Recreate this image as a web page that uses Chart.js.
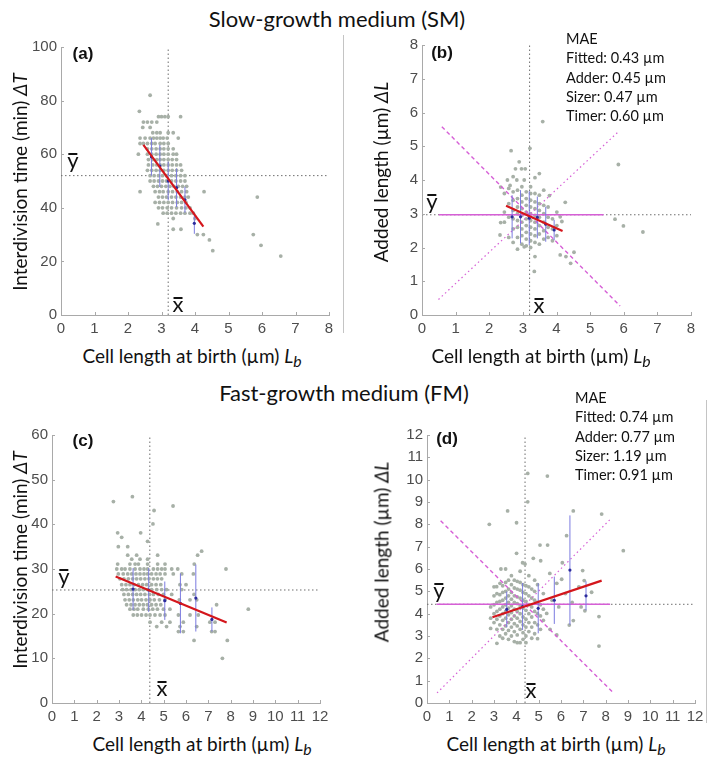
<!DOCTYPE html>
<html>
<head>
<meta charset="utf-8">
<script src="https://cdn.jsdelivr.net/npm/chart.js@4.4.0/dist/chart.umd.min.js"></script>
<style>
  body { margin: 0; background: #fff; }
  #fig { position: relative; width: 709px; height: 760px; background: #fff; overflow: hidden; font-family: Lato, "Open Sans", sans-serif; color: #111; }
  #fig canvas { position: absolute; }
  .txt { position: absolute; white-space: nowrap; transform: translate(-50%, -50%); }
  .title { font-size: 22px; }
  .axt { font-size: 19px; }
  .ytitle { transform: translate(-50%, -50%) rotate(-90deg); }
  .panel { font-family: "Liberation Sans", Arial, sans-serif; font-weight: bold; font-size: 17px; }
  .mean { font-size: 22px; line-height: 22px; }
  .mean::before { content: ""; position: absolute; left: 1px; right: 1px; top: 4px; height: 1.5px; background: #111; }
  .mae { position: absolute; font-size: 14.5px; line-height: 19.3px; white-space: nowrap; }
  .sep { position: absolute; width: 1px; background: #c4c4c4; }
</style>
</head>
<body>
<div id="fig">
  <div class="txt title" style="left:337px; top:18px;">Slow-growth medium (SM)</div>
  <div class="txt title" style="left:344px; top:392px;">Fast-growth medium (FM)</div>

  <canvas id="chartA"></canvas>
  <canvas id="chartB"></canvas>
  <canvas id="chartC"></canvas>
  <canvas id="chartD"></canvas>

  <div class="sep" style="left:343px; top:35px; height:298px;"></div>
  <div class="sep" style="left:706px; top:400px; height:323px;"></div>

  <div class="txt panel" style="left:83px; top:54px;">(a)</div>
  <div class="txt panel" style="left:442px; top:53px;">(b)</div>
  <div class="txt panel" style="left:83px; top:441px;">(c)</div>
  <div class="txt panel" style="left:447px; top:439px;">(d)</div>

  <div class="txt mean" style="left:73px; top:160px;">y</div>
  <div class="txt mean" style="left:178px; top:304px;">x</div>
  <div class="txt mean" style="left:432px; top:201px;">y</div>
  <div class="txt mean" style="left:539px; top:305px;">x</div>
  <div class="txt mean" style="left:64px; top:576px;">y</div>
  <div class="txt mean" style="left:162px; top:688px;">x</div>
  <div class="txt mean" style="left:439px; top:590px;">y</div>
  <div class="txt mean" style="left:531px; top:690px;">x</div>

  <div class="mae" style="left:566px; top:29px;">MAE<br>Fitted: 0.43 µm<br>Adder: 0.45 µm<br>Sizer: 0.47 µm<br>Timer: 0.60 µm</div>
  <div class="mae" style="left:575px; top:388px;">MAE<br>Fitted: 0.74 µm<br>Adder: 0.77 µm<br>Sizer: 1.19 µm<br>Timer: 0.91 µm</div>

  <div class="txt axt" style="left:192px; top:357px;">Cell length at birth (µm) <i>L</i><sub><i>b</i></sub></div>
  <div class="txt axt" style="left:541px; top:357px;">Cell length at birth (µm) <i>L</i><sub><i>b</i></sub></div>
  <div class="txt axt" style="left:202px; top:745px;">Cell length at birth (µm) <i>L</i><sub><i>b</i></sub></div>
  <div class="txt axt" style="left:556px; top:745px;">Cell length at birth (µm) <i>L</i><sub><i>b</i></sub></div>
  <div class="txt axt ytitle" style="left:19px; top:182px;">Interdivision time (min) <i>ΔT</i></div>
  <div class="txt axt ytitle" style="left:380px; top:172px;">Added length (µm) <i>ΔL</i></div>
  <div class="txt axt ytitle" style="left:19px; top:560px;">Interdivision time (min) <i>ΔT</i></div>
  <div class="txt axt ytitle" style="left:381px; top:552px;">Added length (µm) <i>ΔL</i></div>
</div>

<script>
// ---------- (a) slow growth: interdivision time vs birth length ----------
const aRowY = [82, 76, 74, 72, 70, 68, 66, 64, 62, 60, 58, 56, 54, 52, 50, 48, 46, 44, 42, 40, 38, 36, 34, 32, 30, 28, 26, 24, 22];
const aRowX = [
    [2.66],
    [2.34],
    [2.91, 3.0, 3.1, 3.2, 3.57],
    [2.46, 2.58, 2.71, 2.86],
    [2.44, 2.66],
    [2.74, 2.86, 2.96, 3.2, 3.35],
    [2.36, 2.51, 2.66, 2.76, 2.86, 2.96, 3.05, 3.17, 3.5],
    [2.36, 2.46, 2.58, 2.71, 2.81, 2.96, 3.07, 3.2],
    [2.58, 2.71, 2.84, 2.96, 3.07, 3.2, 3.35],
    [2.31, 2.58, 2.71, 2.84, 2.96, 3.07, 3.2, 3.35, 3.45],
    [2.61, 2.74, 2.86, 2.96, 3.07, 3.2, 3.32, 3.45],
    [2.61, 2.74, 2.86, 2.96, 3.07, 3.2, 3.32, 3.45, 3.57],
    [2.58, 2.71, 2.84, 2.96, 3.07, 3.2, 3.32, 3.45, 3.6],
    [2.66, 2.78, 2.91, 3.03, 3.15, 3.3, 3.43, 3.57, 3.7],
    [2.66, 2.78, 2.91, 3.03, 3.15, 3.3, 3.43, 3.57, 3.7],
    [2.76, 2.88, 3.0, 3.13, 3.25, 3.37, 3.5, 3.63, 3.75],
    [2.36, 2.81, 2.94, 3.05, 3.2, 3.33, 3.47, 3.6, 3.75, 4.27],
    [2.91, 3.03, 3.15, 3.3, 3.43, 3.57, 3.7, 3.8, 5.86],
    [2.81, 2.94, 3.07, 3.2, 3.33, 3.47, 3.6, 3.73],
    [2.91, 3.03, 3.17, 3.3, 3.45, 3.6, 3.73, 3.85],
    [3.05, 3.17, 3.3, 3.43, 3.57, 3.7, 3.85, 3.95],
    [3.35, 4.0],
    [2.89],
    [3.35, 3.58],
    [4.07, 4.25, 5.74],
    [4.43],
    [5.97],
    [4.53],
    [6.56]
];
const aBinX = [2.7, 2.95, 3.2, 3.45, 3.7, 3.98];
const aBinMean = [59, 55.6, 50, 47.5, 43, 34.2];
const aBinSd = [7, 7.8, 7.2, 7.2, 4.8, 3.9];
const aFit = [[2.46, 63.5], [4.25, 33]];
const aMean = [3.2, 52];

// ---------- (b) slow growth: added length vs birth length ----------
const bPts = [
    [2.45, 2.75], [2.45, 3.05], [2.45, 3.6], [2.34, 3.79], [2.34, 2.74], [2.32, 2.37], [2.54, 4.0],
    [2.58, 2.3], [2.58, 2.9], [2.58, 3.3], [2.58, 3.75], [2.62, 3.84], [2.65, 4.87],
    [2.71, 2.15], [2.71, 2.55], [2.71, 2.85], [2.71, 3.1], [2.71, 3.4], [2.71, 3.65], [2.71, 4.1], [2.78, 4.33],
    [2.84, 1.95], [2.84, 2.3], [2.84, 2.6], [2.84, 2.8], [2.84, 3.0], [2.84, 3.2], [2.84, 3.45], [2.84, 3.7], [2.82, 4.0], [2.89, 4.54],
    [2.97, 2.1], [2.97, 2.35], [2.97, 2.55], [2.97, 2.75], [2.97, 2.95], [2.97, 3.15], [2.97, 3.35], [2.97, 3.55], [2.97, 3.8], [2.96, 4.33],
    [3.1, 2.05], [3.1, 2.25], [3.1, 2.45], [3.1, 2.65], [3.1, 2.85], [3.1, 3.05], [3.1, 3.25], [3.1, 3.45], [3.1, 3.65], [3.07, 4.33], [3.04, 4.0], [3.04, 2.02],
    [3.23, 2.0], [3.23, 2.2], [3.23, 2.4], [3.23, 2.6], [3.23, 2.8], [3.23, 3.0], [3.23, 3.2], [3.23, 3.4], [3.23, 3.6], [3.23, 3.8], [3.21, 4.94],
    [3.36, 2.15], [3.36, 2.35], [3.36, 2.55], [3.36, 2.75], [3.36, 2.95], [3.36, 3.15], [3.36, 3.35], [3.36, 3.6], [3.36, 4.07], [3.36, 1.73], [3.34, 1.29],
    [3.49, 2.1], [3.49, 2.4], [3.49, 2.65], [3.49, 2.9], [3.49, 3.1], [3.49, 3.3], [3.49, 3.55], [3.49, 4.19], [3.59, 5.73],
    [3.62, 2.25], [3.62, 2.5], [3.62, 2.75], [3.62, 3.0], [3.62, 3.25], [3.62, 3.7],
    [3.75, 2.3], [3.75, 2.6], [3.75, 2.9], [3.75, 3.2], [3.79, 3.54],
    [3.88, 2.2], [3.88, 2.55], [3.88, 2.85],
    [4.01, 2.35], [4.01, 2.65], [4.01, 3.05], [4.11, 2.91], [4.16, 2.77], [4.26, 3.34],
    [4.11, 1.78], [4.28, 1.73], [4.52, 1.86], [4.42, 1.53],
    [5.84, 4.46], [5.74, 2.84], [5.99, 2.64], [6.57, 2.46]
];
const bBinX = [2.68, 2.93, 3.19, 3.43, 3.68, 3.93];
const bBinMean = [2.91, 2.91, 2.87, 2.89, 2.69, 2.52];
const bBinSd = [0.64, 0.79, 0.8, 0.62, 0.52, 0.3];
const bFit = [[2.5, 3.24], [4.18, 2.49]];
const bMean = [3.2, 2.97];
const bAdder = [[0.5, 2.97], [5.4, 2.97]];
const bSizer = [[0.59, 5.58], [5.89, 0.27]];
const bTimer = [[0.49, 0.46], [5.84, 5.43]];

// ---------- (c) fast growth: interdivision time vs birth length ----------
const cRowY = [46.2, 45.1, 44.1, 43.1, 40.1, 38.1, 37.1, 36.2, 35, 34, 33.1, 32.2, 31.1, 30, 28.9, 27.8, 26.5, 25.4, 24.3, 23.1, 22, 21, 19.7, 18.1, 17.1, 16, 14, 10];
const cRowX = [
    [3.6],
    [2.75],
    [5.42],
    [4.57],
    [4.52],
    [2.94, 3.97],
    [3.12],
    [4.28],
    [2.97, 3.39],
    [6.7],
    [3.39, 3.79, 4.73, 6.52],
    [3.57, 3.94, 4.28],
    [2.94, 3.49, 3.72, 3.87, 4.28, 4.73, 5.06, 6.37],
    [2.9, 3.12, 3.27, 3.49, 3.72, 3.94, 4.12, 4.28, 4.54, 4.73, 4.91, 5.06, 5.36, 5.63, 7.79],
    [2.97, 3.19, 3.39, 3.57, 3.76, 3.94, 4.12, 4.28, 4.46, 4.66, 4.84, 5.06, 5.43, 5.81, 6.33],
    [3.04, 3.22, 3.42, 3.61, 3.79, 3.97, 4.16, 4.34, 4.54, 4.72, 4.91],
    [3.12, 3.31, 3.49, 3.67, 3.87, 4.06, 4.24, 4.46, 4.66, 4.87, 5.73, 6.0],
    [3.16, 3.34, 3.54, 3.72, 3.91, 4.09, 4.28, 4.46, 4.69, 4.91, 5.13, 5.81],
    [3.22, 3.42, 3.61, 3.79, 3.97, 4.16, 4.36, 4.54, 4.76, 4.99, 5.36, 6.36],
    [3.27, 3.46, 3.64, 3.84, 4.01, 4.21, 4.39, 4.58, 4.81, 5.06, 5.7, 6.18, 6.48],
    [3.34, 3.54, 3.72, 3.91, 4.09, 4.27, 4.46, 4.66, 4.87, 7.37],
    [3.49, 3.67, 3.84, 4.09, 4.31, 4.51, 4.72, 4.99, 5.28, 8.79],
    [3.64, 3.82, 4.01, 4.21, 4.39, 4.61, 4.84, 5.06, 5.66, 6.18, 6.55],
    [4.39, 4.91, 5.28, 5.88, 7.07, 7.3],
    [4.69, 5.13, 5.73, 6.48],
    [5.66, 5.88, 7.15, 7.3],
    [6.36, 7.85],
    [7.63]
];
const cBinX = [3.63, 4.33, 5.05, 5.75, 6.44, 7.16];
const cBinMean = [25.5, 25.3, 22.9, 22.3, 23.5, 18.7];
const cBinSd = [4.7, 4.9, 4.3, 6.7, 7.5, 2.7];
const cFit = [[2.85, 28.3], [7.82, 18.0]];
const cMean = [4.38, 25.3];

// ---------- (d) fast growth: added length vs birth length ----------
const dPts = [
    [2.85, 3.34], [2.85, 3.8], [2.85, 4.3],
    [3.0, 3.6], [3.0, 4.0], [3.0, 4.4], [3.0, 4.8], [3.0, 5.2],
    [3.13, 2.67], [3.13, 3.3], [3.13, 3.75], [3.13, 4.1], [3.13, 4.5], [3.13, 4.9], [3.12, 5.21],
    [3.26, 3.0], [3.26, 3.5], [3.26, 3.9], [3.26, 4.2], [3.26, 4.55], [3.26, 4.85], [3.27, 5.36], [3.31, 6.0],
    [3.39, 2.9], [3.39, 3.3], [3.39, 3.7], [3.39, 4.0], [3.39, 4.3], [3.39, 4.6], [3.39, 4.95], [3.39, 5.25],
    [3.52, 3.1], [3.52, 3.45], [3.52, 3.8], [3.52, 4.1], [3.52, 4.4], [3.52, 4.7], [3.52, 5.0], [3.52, 5.4], [3.52, 6.0],
    [3.65, 2.85], [3.65, 3.25], [3.65, 3.6], [3.65, 3.95], [3.65, 4.25], [3.65, 4.5], [3.65, 4.8], [3.65, 5.1], [3.65, 5.5],
    [3.78, 3.0], [3.78, 3.4], [3.78, 3.75], [3.78, 4.05], [3.78, 4.35], [3.78, 4.65], [3.78, 4.95], [3.78, 5.3], [3.78, 5.7],
    [3.91, 2.75], [3.91, 3.2], [3.91, 3.55], [3.91, 3.9], [3.91, 4.2], [3.91, 4.5], [3.91, 4.8], [3.91, 5.15], [3.91, 5.5],
    [4.04, 2.7], [4.04, 3.05], [4.04, 3.45], [4.04, 3.8], [4.04, 4.1], [4.04, 4.45], [4.04, 4.75], [4.04, 5.1], [4.04, 5.45], [4.01, 6.7],
    [4.17, 2.7], [4.17, 3.3], [4.17, 3.65], [4.17, 4.0], [4.17, 4.35], [4.17, 4.7], [4.17, 5.05], [4.17, 5.4], [4.17, 5.9],
    [4.3, 2.85], [4.3, 3.15], [4.3, 3.5], [4.3, 3.85], [4.3, 4.25], [4.3, 4.6], [4.3, 4.95], [4.3, 5.3], [4.28, 6.28],
    [4.43, 2.7], [4.43, 3.0], [4.43, 3.4], [4.43, 3.75], [4.43, 4.15], [4.43, 4.55], [4.43, 4.9], [4.43, 5.25], [4.39, 6.22],
    [4.56, 3.2], [4.56, 3.6], [4.56, 4.0], [4.56, 4.4], [4.56, 4.8], [4.56, 5.2], [4.56, 5.7],
    [4.69, 2.9], [4.69, 3.4], [4.69, 3.85], [4.69, 4.3], [4.69, 4.7], [4.69, 5.1], [4.76, 6.48],
    [4.82, 3.1], [4.82, 3.6], [4.82, 4.1], [4.82, 4.6], [4.82, 5.0], [4.82, 5.5],
    [4.95, 2.88], [4.95, 3.5], [4.95, 4.0], [4.95, 4.5], [4.95, 5.3],
    [5.08, 3.3], [5.08, 3.9], [5.08, 4.4], [5.09, 6.37],
    [5.21, 3.7], [5.21, 4.2], [5.21, 4.9],
    [5.36, 4.01], [5.51, 3.3], [5.81, 3.05], [5.6, 4.6], [5.9, 4.3], [5.5, 5.8], [5.81, 5.36], [6.03, 5.54],
    [6.2, 4.9], [6.5, 4.5], [6.37, 3.49], [6.55, 3.69], [6.06, 6.28], [6.8, 5.2], [6.9, 4.3], [6.97, 5.93],
    [7.04, 5.48], [7.07, 4.13], [7.37, 4.96], [7.7, 3.87], [7.7, 2.55],
    [4.51, 10.28], [5.39, 10.16], [4.51, 9.01], [3.61, 8.6], [2.79, 8.0], [4.01, 8.07], [6.55, 8.6], [7.82, 8.46],
    [8.79, 6.82], [6.25, 7.49], [5.06, 7.07], [5.4, 7.07]
];
const dBinX = [3.57, 4.28, 4.98, 5.7, 6.4, 7.12];
const dBinMean = [4.19, 4.32, 4.24, 4.6, 5.95, 4.8];
const dBinSd = [0.8, 1.05, 1.12, 1.06, 2.45, 0.65];
const dFit = [[2.93, 3.84], [7.82, 5.48]];
const dMean = [4.39, 4.42];
const dAdder = [[0.43, 4.42], [8.2, 4.42]];
const dSizer = [[0.61, 8.16], [8.3, 0.5]];
const dTimer = [[0.45, 0.45], [8.22, 8.24]];

// ---------- styling ----------
const pointColor = "#a7b0a7";
const barColor = "#7b7be0";
const barDotColor = "#2b2b9c";
const fitColor = "#d4161c";
const modelColor = "#d65fd6";
const refColor = "#6e6e6e";
const axisColor = "#a9a9a9";
const tickFont = { family: "'Liberation Sans', Arial, sans-serif", size: 15 };
const tickColor = "#4d4d4d";

function rowsToPoints(rowY, rowX) {
    const pts = [];
    rowY.forEach((y, i) => rowX[i].forEach(x => pts.push({ x: x, y: y })));
    return pts;
}

function pairsToPoints(pairs) {
    return pairs.map(p => ({ x: p[0], y: p[1] }));
}

function lineSet(pairs, color, width, dash, order) {
    return {
        data: pairsToPoints(pairs),
        showLine: true,
        borderColor: color,
        borderWidth: width,
        borderDash: dash,
        pointRadius: 0,
        order: order
    };
}

function binSets(binX, binMean, binSd) {
    const bars = [];
    binX.forEach((x, i) => {
        bars.push({ x: x, y: binMean[i] - binSd[i] });
        bars.push({ x: x, y: binMean[i] + binSd[i] });
        bars.push({ x: x, y: null });
    });
    return [
        { data: bars, showLine: true, spanGaps: false, borderColor: barColor, borderWidth: 1, pointRadius: 0, order: 2 },
        { data: binX.map((x, i) => ({ x: x, y: binMean[i] })), pointRadius: 1.6, backgroundColor: barDotColor, borderWidth: 0, order: 1 }
    ];
}

function meanSets(mean, xMax, yMax) {
    return [
        lineSet([[0, mean[1]], [xMax, mean[1]]], refColor, 1, [1.5, 2.5], 5),
        lineSet([[mean[0], 0], [mean[0], yMax]], refColor, 1, [1.5, 2.5], 5)
    ];
}

function scatterSet(points) {
    return { data: points, pointRadius: 1.9, backgroundColor: pointColor, borderWidth: 0, order: 4 };
}

// MATLAB-like inward tick marks
const innerTicks = {
    id: "innerTicks",
    afterDraw(chart) {
        const { ctx, chartArea, scales } = chart;
        ctx.save();
        ctx.strokeStyle = axisColor;
        ctx.lineWidth = 1;
        scales.x.ticks.forEach(t => {
            const px = Math.round(scales.x.getPixelForValue(t.value)) + 0.5;
            ctx.beginPath();
            ctx.moveTo(px, chartArea.bottom);
            ctx.lineTo(px, chartArea.bottom - 3);
            ctx.stroke();
        });
        scales.y.ticks.forEach(t => {
            const py = Math.round(scales.y.getPixelForValue(t.value)) + 0.5;
            ctx.beginPath();
            ctx.moveTo(chartArea.left, py);
            ctx.lineTo(chartArea.left + 3, py);
            ctx.stroke();
        });
        ctx.restore();
    }
};

function makePanel(id, box, xMax, yMax, yStep, datasets) {
    const padTop = 14, padRight = 16, yAxisW = 50, xAxisH = 26;
    const canvas = document.getElementById(id);
    canvas.width = box.w + yAxisW + padRight;
    canvas.height = box.h + padTop + xAxisH;
    canvas.style.left = (box.left - yAxisW) + "px";
    canvas.style.top = (box.top - padTop) + "px";

    return new Chart(canvas, {
        type: "scatter",
        data: { datasets: datasets },
        options: {
            responsive: false,
            animation: false,
            devicePixelRatio: 1,
            layout: { padding: { top: padTop, right: padRight, left: 0, bottom: 0 } },
            plugins: { legend: { display: false }, tooltip: { enabled: false } },
            scales: {
                x: {
                    type: "linear", min: 0, max: xMax,
                    ticks: { stepSize: 1, padding: 5, color: tickColor, font: tickFont, autoSkip: false, maxRotation: 0, minRotation: 0 },
                    grid: { drawOnChartArea: false, drawTicks: false },
                    border: { color: axisColor },
                    afterFit(s) { s.height = xAxisH; s.paddingLeft = 0; s.paddingRight = 0; }
                },
                y: {
                    type: "linear", min: 0, max: yMax,
                    ticks: { stepSize: yStep, padding: 4, color: tickColor, font: tickFont, autoSkip: false },
                    grid: { drawOnChartArea: false, drawTicks: false },
                    border: { color: axisColor },
                    afterFit(s) { s.width = yAxisW; s.paddingTop = 0; s.paddingBottom = 0; }
                }
            }
        },
        plugins: [innerTicks]
    });
}

document.addEventListener("DOMContentLoaded", function () {
    makePanel("chartA", { left: 61, top: 47, w: 268, h: 268 }, 8, 100, 20, [
        lineSet(aFit, fitColor, 2.2, [], 0),
        ...binSets(aBinX, aBinMean, aBinSd),
        scatterSet(rowsToPoints(aRowY, aRowX)),
        ...meanSets(aMean, 8, 100)
    ]);

    makePanel("chartB", { left: 422, top: 45, w: 269, h: 270 }, 8, 8, 1, [
        lineSet(bFit, fitColor, 2.2, [], 0),
        lineSet(bAdder, modelColor, 1.6, [], 3),
        lineSet(bSizer, modelColor, 1.4, [4, 3], 3),
        lineSet(bTimer, modelColor, 1.2, [1.5, 3], 3),
        ...binSets(bBinX, bBinMean, bBinSd),
        scatterSet(pairsToPoints(bPts)),
        ...meanSets(bMean, 8, 8)
    ]);

    makePanel("chartC", { left: 52, top: 435, w: 268, h: 268 }, 12, 60, 10, [
        lineSet(cFit, fitColor, 2.2, [], 0),
        ...binSets(cBinX, cBinMean, cBinSd),
        scatterSet(rowsToPoints(cRowY, cRowX)),
        ...meanSets(cMean, 12, 60)
    ]);

    makePanel("chartD", { left: 427, top: 435, w: 268, h: 268 }, 12, 12, 1, [
        lineSet(dFit, fitColor, 2.2, [], 0),
        lineSet(dAdder, modelColor, 1.6, [], 3),
        lineSet(dSizer, modelColor, 1.4, [4, 3], 3),
        lineSet(dTimer, modelColor, 1.2, [1.5, 3], 3),
        ...binSets(dBinX, dBinMean, dBinSd),
        scatterSet(pairsToPoints(dPts)),
        ...meanSets(dMean, 12, 12)
    ]);
});
</script>
</body>
</html>
